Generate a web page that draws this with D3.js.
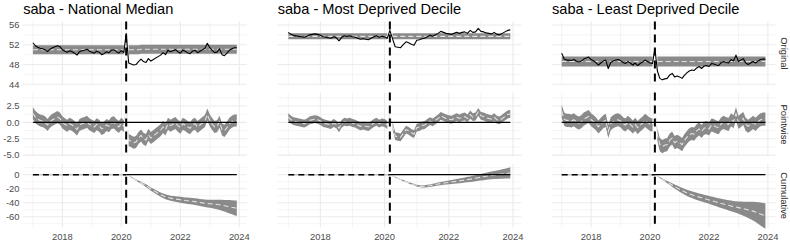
<!DOCTYPE html>
<html>
<head>
<meta charset="utf-8">
<script src="https://cdn.jsdelivr.net/npm/d3@7"></script>
<style>
  body { margin: 0; background: #fff; }
  svg { display: block; }
  text { font-family: "Liberation Sans", Arial, sans-serif; }
</style>
</head>
<body>
<svg id="chart" width="790" height="244"></svg>
<script>
/* global d3 */

// facet titles and strip names
var titles = ["saba - National Median", "saba - Most Deprived Decile", "saba - Least Deprived Decile"];
var rowNames = ["Original", "Pointwise", "Cumulative"];

// monthly observed values, Jan 2017 - Dec 2023
var actualNational = [52.4,51.8,51.5,51.3,51.2,51.0,50.6,51.1,51.4,51.6,
  51.8,51.6,51.0,50.7,50.5,50.8,50.6,50.3,49.9,50.6,
  50.8,50.9,51.1,50.7,50.5,50.3,50.7,50.5,50.0,50.2,
  50.6,50.4,50.9,51.0,50.6,50.3,50.8,50.4,54.3,48.3,
  48.1,47.9,48.0,48.6,49.1,48.6,48.4,49.2,48.7,49.0,
  49.3,49.6,49.9,50.4,50.0,50.9,50.6,50.8,51.0,50.6,
  50.3,50.9,50.7,50.4,50.2,50.7,50.9,50.4,50.7,51.0,
  51.3,52.3,51.4,50.8,50.4,50.5,51.2,50.0,49.8,50.3,
  50.9,51.2,51.4,51.4];
var actualMost = [54.5,54.1,53.9,53.8,53.7,53.6,53.5,53.7,54.0,54.1,
  54.2,54.1,53.9,53.6,53.5,53.4,53.3,53.6,53.4,52.8,
  53.5,53.8,53.7,53.8,53.6,53.5,53.3,53.1,53.2,53.1,
  53.0,53.3,53.6,53.8,53.5,53.7,53.6,53.3,54.9,53.2,
  51.6,51.5,51.4,52.0,52.6,52.4,52.1,51.9,52.9,53.0,
  53.2,53.3,53.6,53.9,53.7,54.0,54.3,54.7,54.5,54.3,
  54.2,54.1,54.3,54.5,54.3,54.5,54.6,54.3,54.9,54.5,
  54.6,55.3,54.7,54.6,54.4,54.3,54.2,54.5,54.1,54.0,
  54.3,54.6,54.9,55.0];
var actualLeast = [50.3,49.1,48.9,48.9,48.8,49.0,48.7,48.5,48.7,49.1,
  49.3,49.5,49.0,48.7,48.4,47.9,48.3,48.7,48.9,47.2,
  48.4,48.7,48.9,49.0,48.8,48.4,48.2,48.6,48.3,47.9,
  48.3,47.8,48.2,48.5,48.9,48.6,48.3,48.2,51.3,46.7,
  45.2,44.9,45.1,45.2,45.9,46.2,45.5,45.7,45.5,45.2,
  45.8,46.3,46.7,46.9,46.8,47.3,47.6,47.2,47.7,47.8,
  47.6,48.2,48.1,47.9,47.8,48.4,48.6,48.4,48.3,49.0,
  48.7,49.9,48.6,48.9,49.2,48.3,48.0,48.3,48.6,48.3,
  48.7,49.0,49.1,49.1];

// counterfactual prediction (mean) per month
var predNational = [51.0,51.0,51.0,51.0,51.0,51.0,51.0,51.0,51.0,51.0,
  51.0,51.0,51.0,51.0,51.0,51.0,51.0,51.0,51.0,51.0,
  51.0,51.0,51.0,51.0,51.0,51.0,51.0,51.0,51.0,51.0,
  51.0,51.0,51.0,51.0,51.0,51.0,51.0,51.0,51.0,51.0,
  51.0,51.0,51.0,51.0,51.1,51.1,51.1,51.1,51.1,51.1,
  51.1,51.1,51.1,51.1,51.1,51.1,51.1,51.1,51.1,51.1,
  51.1,51.1,51.1,51.1,51.1,51.1,51.1,51.1,51.1,51.1,
  51.1,51.1,51.1,51.1,51.1,51.1,51.1,51.1,51.1,51.1,
  51.1,51.1,51.1,51.1];
var predMost = [53.7,53.7,53.7,53.7,53.7,53.7,53.7,53.7,53.7,53.7,
  53.7,53.7,53.7,53.7,53.7,53.7,53.7,53.7,53.7,53.7,
  53.7,53.7,53.7,53.7,53.7,53.7,53.7,53.7,53.7,53.7,
  53.7,53.7,53.7,53.7,53.7,53.7,53.7,53.7,53.7,53.7,
  53.7,53.7,53.7,53.7,53.7,53.7,53.7,53.7,53.7,53.7,
  53.7,53.7,53.7,53.7,53.7,53.7,53.7,53.7,53.7,53.7,
  53.7,53.7,53.7,53.7,53.7,53.7,53.7,53.7,53.7,53.7,
  53.7,53.7,53.7,53.7,53.7,53.7,53.7,53.7,53.7,53.7,
  53.7,53.7,53.7,53.7];
var predLeast = [48.6,48.6,48.6,48.6,48.6,48.6,48.6,48.6,48.6,48.6,
  48.6,48.6,48.6,48.6,48.6,48.6,48.6,48.6,48.6,48.6,
  48.6,48.6,48.6,48.6,48.6,48.6,48.6,48.6,48.6,48.6,
  48.6,48.6,48.6,48.6,48.6,48.6,48.6,48.6,48.6,48.6,
  48.6,48.6,48.6,48.6,48.6,48.6,48.6,48.6,48.6,48.6,
  48.6,48.6,48.6,48.6,48.6,48.6,48.6,48.6,48.6,48.6,
  48.6,48.6,48.6,48.6,48.6,48.6,48.6,48.6,48.6,48.6,
  48.6,48.6,48.6,48.6,48.6,48.6,48.6,48.6,48.6,48.6,
  48.6,48.6,48.6,48.6];
// half width of the prediction interval
var predHalf = [0.92, 0.6, 1.0];

// cumulative effect, Mar 2020 - Dec 2023
var cumNational = [0,-1.5,-3.5,-5.5,-7.5,-9.5,-11.5,-13.5,-15.5,-18,
  -20.5,-22.5,-24.5,-26.5,-28.5,-30,-31.5,-32.5,-33.5,-34.2,
  -34.8,-35.3,-35.8,-36.3,-36.8,-37.2,-37.6,-38,-38.5,-39,
  -39.6,-40.2,-40.8,-41.2,-41.5,-41.8,-42.2,-42.6,-43,-43.6,
  -44.3,-45,-45.8,-46.6,-47.3,-48];
var cumMost = [0,-1.7,-3.5,-5.2,-6.8,-8.4,-10,-11.5,-13,-14.3,
  -15.5,-16.3,-16.7,-16.6,-16.2,-15.7,-14.9,-14.1,-13.4,-12.7,
  -12.1,-11.5,-11,-10.5,-10,-9.4,-8.8,-8.2,-7.6,-7,
  -6.4,-5.8,-5.1,-4.3,-3.6,-2.9,-2.2,-1.6,-1,-0.5,
  0,0.5,1,1.5,2,2.5];
var cumLeast = [0,-1.8,-4,-6.3,-8.5,-10.5,-12.5,-14.7,-16.8,-18.8,
  -20.8,-22.6,-24.3,-25.9,-27.3,-28.6,-29.8,-30.9,-32,-33,
  -34,-35,-36,-37,-38,-39,-40,-41,-41.9,-42.8,
  -43.7,-44.6,-45.4,-46.2,-47,-47.8,-48.6,-49.4,-50.2,-51,
  -52,-53.3,-54.7,-56.2,-57.7,-59];
// half width of the cumulative interval
var cumHalfNational = [0,0.3,0.5,0.8,1.0,1.2,1.5,1.7,1.9,2.1,
  2.3,2.5,2.7,2.9,3.0,3.2,3.4,3.5,3.6,3.8,
  3.9,4.0,4.2,4.3,4.4,4.5,4.6,4.7,4.8,4.9,
  5.0,5.1,5.3,5.5,5.8,6.1,6.5,6.9,7.3,7.8,
  8.3,8.9,9.5,10.0,10.5,11.0];
var cumHalfMost = [0,0.2,0.4,0.5,0.7,0.8,0.9,1.0,1.1,1.2,
  1.3,1.4,1.5,1.6,1.7,1.8,1.9,2.0,2.1,2.2,
  2.3,2.5,2.7,2.9,3.1,3.3,3.5,3.6,3.7,3.9,
  4.0,4.2,4.4,4.5,4.7,4.9,5.1,5.3,5.5,5.7,
  6.0,6.3,6.7,7.1,7.5,8.0];
var cumHalfLeast = [0,0.4,0.7,1.0,1.3,1.6,2.0,2.4,2.8,3.2,
  3.5,3.8,4.1,4.4,4.6,4.8,5.0,5.1,5.2,5.3,
  5.4,5.5,5.6,5.8,6.0,6.2,6.4,6.6,6.8,7.0,
  7.3,7.6,7.9,8.3,8.8,9.4,10.0,10.8,11.6,12.5,
  13.4,14.4,15.4,16.4,17.3,18.2];

// axis ticks
var xMajorYears = [2018, 2020, 2022, 2024];
var xMinorYears = [2017, 2019, 2021, 2023];
var yTicks = [[44, 48, 52, 56], [-5, -2.5, 0, 2.5], [-60, -40, -20, 0]];
var yTickLabels = [["44", "48", "52", "56"], ["-5.0", "-2.5", "0.0", "2.5"], ["-60", "-40", "-20", "0"]];
var yMinor = [[46, 50, 54], [-3.75, -1.25, 1.25, 3.75], [-70, -50, -30, -10, 10]];
var yDomains = [[43.8, 56.7], [-5.2, 4.55], [-75.4, 15.7]];

var months = d3.timeMonth.range(new Date(2017, 0, 1), new Date(2024, 0, 1));
var cut = 38; // Mar 2020

var series = [
  { actual: actualNational, pred: predNational, half: predHalf[0], cum: cumNational, cumHalf: cumHalfNational },
  { actual: actualMost, pred: predMost, half: predHalf[1], cum: cumMost, cumHalf: cumHalfMost },
  { actual: actualLeast, pred: predLeast, half: predHalf[2], cum: cumLeast, cumHalf: cumHalfLeast }
];

// panel geometry
var colLeft = [22.7, 277.2, 551.5],
    colRight = [247, 521.4, 775.6],
    rowTop = [21.5, 92.6, 163.7],
    rowBottom = [85.3, 156.4, 227.5];

var ribbonFill = "#8a8a8a",
    gridColor = "#ebebeb",
    axisText = "#4d4d4d";

var svg = d3.select("#chart");

var span = months[months.length - 1] - months[0];
var xDomain = [new Date(+months[0] - 0.05 * span), new Date(+months[months.length - 1] + 0.05 * span)];

series.forEach(function (s, c) {
  var x = d3.scaleTime().domain(xDomain).range([colLeft[c], colRight[c]]);

  // build rows of records for this column
  var recs = months.map(function (m, i) {
    var pw = s.actual[i] - s.pred[i];
    return {
      date: m, i: i,
      actual: s.actual[i], pred: s.pred[i],
      lo: s.pred[i] - s.half, hi: s.pred[i] + s.half,
      pw: pw, pwLo: pw - s.half, pwHi: pw + s.half
    };
  });
  var pre = recs.filter(function (d) { return d.i < cut; });
  var post = recs.filter(function (d) { return d.i > cut; });
  var cumRecs = s.cum.map(function (v, k) {
    return { date: months[cut + k], v: v, lo: v - s.cumHalf[k], hi: v + s.cumHalf[k] };
  });
  var preZero = recs.filter(function (d) { return d.i <= cut; });
  var postZero = recs.filter(function (d) { return d.i >= cut; });

  // title
  svg.append("text")
    .attr("x", colLeft[c] + 0.5)
    .attr("y", 13.5)
    .attr("font-size", "14.6px")
    .attr("fill", "#000")
    .text(titles[c]);

  for (var r = 0; r < 3; r++) {
    var y = d3.scaleLinear().domain(yDomains[r]).range([rowBottom[r], rowTop[r]]);
    var g = svg.append("g");

    // grid
    g.selectAll(".hminor").data(yMinor[r]).enter().append("line")
      .attr("x1", colLeft[c]).attr("x2", colRight[c])
      .attr("y1", function (d) { return y(d); }).attr("y2", function (d) { return y(d); })
      .attr("stroke", gridColor).attr("stroke-width", 0.55);
    g.selectAll(".vminor").data(xMinorYears).enter().append("line")
      .attr("x1", function (d) { return x(new Date(d, 0, 1)); })
      .attr("x2", function (d) { return x(new Date(d, 0, 1)); })
      .attr("y1", rowTop[r]).attr("y2", rowBottom[r])
      .attr("stroke", gridColor).attr("stroke-width", 0.55);
    g.selectAll(".hmajor").data(yTicks[r]).enter().append("line")
      .attr("x1", colLeft[c]).attr("x2", colRight[c])
      .attr("y1", function (d) { return y(d); }).attr("y2", function (d) { return y(d); })
      .attr("stroke", gridColor).attr("stroke-width", 1.1);
    g.selectAll(".vmajor").data(xMajorYears).enter().append("line")
      .attr("x1", function (d) { return x(new Date(d, 0, 1)); })
      .attr("x2", function (d) { return x(new Date(d, 0, 1)); })
      .attr("y1", rowTop[r]).attr("y2", rowBottom[r])
      .attr("stroke", gridColor).attr("stroke-width", 1.1);

    var line = function (acc) {
      return d3.line().x(function (d) { return x(d.date); }).y(function (d) { return y(acc(d)); });
    };
    var area = function (lo, hi) {
      return d3.area().x(function (d) { return x(d.date); })
        .y0(function (d) { return y(lo(d)); }).y1(function (d) { return y(hi(d)); });
    };

    if (r === 0) {
      [pre, post].forEach(function (part) {
        g.append("path").datum(part).attr("fill", ribbonFill)
          .attr("d", area(function (d) { return d.lo; }, function (d) { return d.hi; }));
      });
      g.append("path").datum(recs).attr("fill", "none").attr("stroke", "#e3e3e3")
        .attr("stroke-width", 1.1).attr("stroke-dasharray", "5,3")
        .attr("d", line(function (d) { return d.pred; }));
      g.append("path").datum(recs).attr("fill", "none").attr("stroke", "#000")
        .attr("stroke-width", 1.1).attr("stroke-linejoin", "round")
        .attr("d", line(function (d) { return d.actual; }));
    } else if (r === 1) {
      [pre, post].forEach(function (part) {
        g.append("path").datum(part).attr("fill", ribbonFill)
          .attr("d", area(function (d) { return d.pwLo; }, function (d) { return d.pwHi; }));
      });
      g.append("path").datum(recs).attr("fill", "none").attr("stroke", "#e3e3e3")
        .attr("stroke-width", 1.1).attr("stroke-dasharray", "5,3")
        .attr("d", line(function (d) { return d.pw; }));
      g.append("path").datum(recs).attr("fill", "none").attr("stroke", "#000")
        .attr("stroke-width", 1.3)
        .attr("d", line(function () { return 0; }));
    } else {
      g.append("path").datum(preZero).attr("fill", "none").attr("stroke", "#c9c9c9")
        .attr("stroke-width", 1.6)
        .attr("d", line(function () { return 0; }));
      g.append("path").datum(preZero).attr("fill", "none").attr("stroke", "#000")
        .attr("stroke-width", 1.4).attr("stroke-dasharray", "6,4")
        .attr("d", line(function () { return 0; }));
      g.append("path").datum(cumRecs).attr("fill", ribbonFill)
        .attr("d", area(function (d) { return d.lo; }, function (d) { return d.hi; }));
      g.append("path").datum(cumRecs).attr("fill", "none").attr("stroke", "#e3e3e3")
        .attr("stroke-width", 1.1).attr("stroke-dasharray", "5,3")
        .attr("d", line(function (d) { return d.v; }));
      g.append("path").datum(postZero).attr("fill", "none").attr("stroke", "#000")
        .attr("stroke-width", 1.3)
        .attr("d", line(function () { return 0; }));
    }

    // intervention line
    g.append("line")
      .attr("x1", x(months[cut])).attr("x2", x(months[cut]))
      .attr("y1", rowTop[r]).attr("y2", rowBottom[r])
      .attr("stroke", "#000").attr("stroke-width", 2)
      .attr("stroke-dasharray", "8,5");

    // y labels only on the first column
    if (c === 0) {
      g.selectAll(".ylab").data(yTicks[r]).enter().append("text")
        .attr("x", 19.5)
        .attr("y", function (d) { return y(d); })
        .attr("dy", "0.35em")
        .attr("text-anchor", "end")
        .attr("font-size", "9.4px")
        .attr("fill", axisText)
        .text(function (d, k) { return yTickLabels[r][k]; });
    }
    // strips on the last column
    if (c === 2) {
      var cy = (rowTop[r] + rowBottom[r]) / 2;
      g.append("text")
        .attr("transform", "translate(" + 781 + "," + cy + ") rotate(90)")
        .attr("text-anchor", "middle")
        .attr("font-size", "9.4px")
        .attr("fill", "#1a1a1a")
        .text(rowNames[r]);
    }
    // x labels on bottom row
    if (r === 2) {
      g.selectAll(".xlab").data(xMajorYears).enter().append("text")
        .attr("x", function (d) { return x(new Date(d, 0, 1)); })
        .attr("y", 240)
        .attr("text-anchor", "middle")
        .attr("font-size", "9.4px")
        .attr("fill", axisText)
        .text(function (d) { return d; });
    }
  }
});
</script>
</body>
</html>
